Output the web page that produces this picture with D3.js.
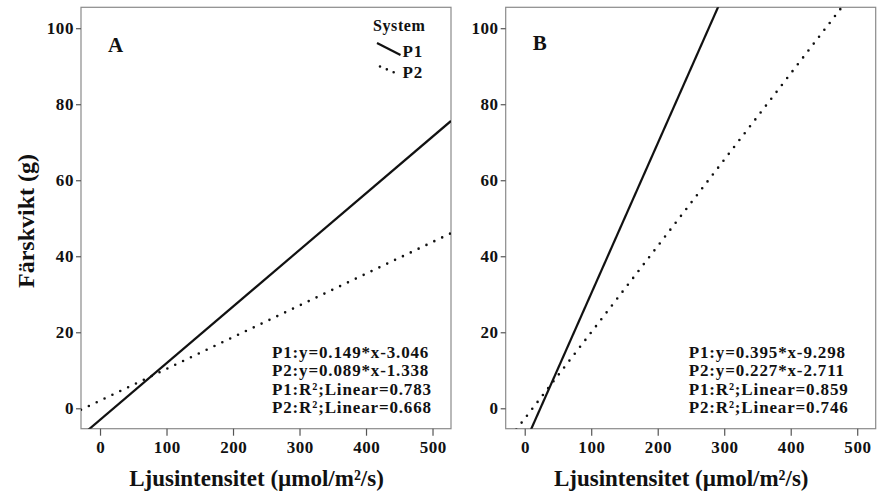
<!DOCTYPE html>
<html>
<head>
<meta charset="utf-8">
<script src="https://cdn.jsdelivr.net/npm/d3@7"></script>
<style>
  body { margin: 0; background: #fff; }
  text { font-family: "Liberation Serif", "Times New Roman", serif; font-weight: bold; fill: #111; }
</style>
</head>
<body>
<div id="chart"></div>
<script>
// chart values
var panelNames = ["A", "B"];
var seriesNames = ["P1", "P2"];
var xTicks = [0, 100, 200, 300, 400, 500];
var yTicks = [0, 20, 40, 60, 80, 100];
// fit lines as drawn (slope, intercept) per panel
var slopesA = [0.149, 0.0835];
var interceptsA = [-3.046, 2.0];
var slopesB = [0.395, 0.227];
var interceptsB = [-9.298, -2.711];
var notesA = ["P1:y=0.149*x-3.046", "P2:y=0.089*x-1.338", "P1:R\u00b2;Linear=0.783", "P2:R\u00b2;Linear=0.668"];
var notesB = ["P1:y=0.395*x-9.298", "P2:y=0.227*x-2.711", "P1:R\u00b2;Linear=0.859", "P2:R\u00b2;Linear=0.746"];
var xTitle = "Ljusintensitet (\u00b5mol/m\u00b2/s)";
var yTitle = "F\u00e4rskvikt (g)";
var legendTitle = "System";

var svgWidth = 882;
var svgHeight = 495;

var svg = d3.select("#chart")
  .append("svg")
  .attr("width", svgWidth)
  .attr("height", svgHeight);

// layout of the two panels
var panelLeft = [81, 505.7];
var panelW = 370;
var plotTop = 7.3, plotBottom = 428.7;
var noteX = [191, 183];

var yScale = d3.scaleLinear()
  .domain([-5.37, 105.5])
  .range([plotBottom, plotTop]);

var slopes = [slopesA, slopesB];
var intercepts = [interceptsA, interceptsB];
var notes = [notesA, notesB];
var dotted = "0,8.7";

panelNames.forEach(function(name, p) {
  var left = panelLeft[p];
  var xScale = d3.scaleLinear()
    .domain([-28.6, 527.8])
    .range([left, left + panelW]);

  var g = svg.append("g");

  g.append("clipPath")
    .attr("id", "clip" + p)
    .append("rect")
    .attr("x", left)
    .attr("y", plotTop)
    .attr("width", panelW)
    .attr("height", plotBottom - plotTop);

  // frame
  g.append("rect")
    .attr("x", left)
    .attr("y", plotTop)
    .attr("width", panelW)
    .attr("height", plotBottom - plotTop)
    .attr("fill", "none")
    .attr("stroke", "#8a8a8a")
    .attr("stroke-width", 1.2);

  // axes
  var xAxis = d3.axisBottom(xScale).tickValues(xTicks).tickSize(7).tickPadding(5);
  var yAxis = d3.axisLeft(yScale).tickValues(yTicks).tickSize(5).tickPadding(2);

  var xAxisG = g.append("g")
    .attr("transform", "translate(0," + plotBottom + ")")
    .call(xAxis);
  var yAxisG = g.append("g")
    .attr("transform", "translate(" + left + ",0)")
    .call(yAxis);

  [xAxisG, yAxisG].forEach(function(ax) {
    ax.select(".domain").remove();
    ax.selectAll(".tick line").attr("stroke", "#555").attr("stroke-width", 1.2);
    ax.selectAll(".tick text")
      .attr("font-family", null)
      .style("font-size", "17px")
      .style("letter-spacing", "0.6px");
  });
  xAxisG.selectAll(".tick text").attr("dx", "0.3");

  // fit lines
  var x0 = xScale.domain()[0], x1 = xScale.domain()[1];
  seriesNames.forEach(function(s, i) {
    var m = slopes[p][i], b = intercepts[p][i];
    var pts = [x0, x1].map(function(x) { return [xScale(x), yScale(m * x + b)]; });
    g.append("path")
      .attr("clip-path", "url(#clip" + p + ")")
      .attr("d", d3.line()(pts))
      .attr("fill", "none")
      .attr("stroke", "#111")
      .attr("stroke-width", i === 0 ? 2.2 : 2.6)
      .attr("stroke-linecap", i === 0 ? "butt" : "round")
      .attr("stroke-dasharray", i === 0 ? null : dotted);
  });

  // panel letter
  g.append("text")
    .attr("x", left + 27)
    .attr("y", p === 0 ? 52 : 50)
    .style("font-size", "21px")
    .text(name);

  // equations
  g.selectAll(".note")
    .data(notes[p])
    .enter()
    .append("text")
    .attr("class", "note")
    .attr("x", left + noteX[p])
    .attr("y", function(d, i) { return 357.5 + i * 18.6; })
    .style("font-size", "17px")
    .style("letter-spacing", "0.85px")
    .text(function(d) { return d; });

  // x title
  g.append("text")
    .attr("x", left + 175.5)
    .attr("y", 486)
    .attr("text-anchor", "middle")
    .style("font-size", "23px")
    .text(xTitle);
});

// y title
svg.append("text")
  .attr("transform", "translate(34," + ((plotTop + plotBottom) / 2 + 3) + ") rotate(-90)")
  .attr("text-anchor", "middle")
  .style("font-size", "24px")
  .text(yTitle);

// legend in panel A
var legend = svg.append("g");
legend.append("text")
  .attr("x", 373)
  .attr("y", 30.5)
  .style("font-size", "16px")
  .style("letter-spacing", "0.6px")
  .text(legendTitle);

var legendLines = [[[377, 43], [400.5, 55]], [[380, 66.5], [398, 74]]];
seriesNames.forEach(function(s, i) {
  legend.append("path")
    .attr("d", d3.line()(legendLines[i]))
    .attr("fill", "none")
    .attr("stroke", "#111")
    .attr("stroke-width", i === 0 ? 2.2 : 2.6)
    .attr("stroke-linecap", i === 0 ? "butt" : "round")
    .attr("stroke-dasharray", i === 0 ? null : "0,7.4");
  legend.append("text")
    .attr("x", 402.5)
    .attr("y", i === 0 ? 57 : 78)
    .style("font-size", "17px")
    .style("letter-spacing", "0.8px")
    .text(s);
});
</script>
</body>
</html>
